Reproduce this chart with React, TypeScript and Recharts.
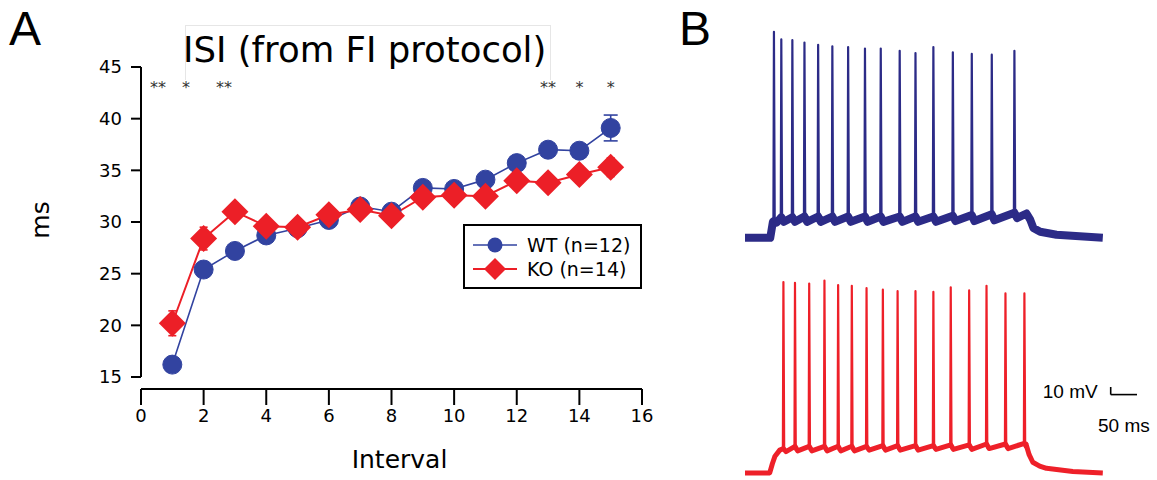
import React from "react";
import {
  ComposedChart,
  LineChart,
  Line,
  Scatter,
  ErrorBar,
  XAxis,
  YAxis,
  ReferenceLine
} from "recharts";

// panel A: ISI per interval
const intervals = [1, 2, 3, 4, 5, 6, 7, 8, 9, 10, 11, 12, 13, 14, 15];
const wtMean = [16.2, 25.4, 27.2, 28.7, 29.4, 30.2, 31.5, 31.0, 33.3, 33.2, 34.1, 35.7, 37.0, 36.9, 39.1];
const wtErr = [0.5, 0.5, 0.5, 0.5, 0.5, 0.5, 0.5, 0.5, 0.5, 0.5, 0.5, 0.6, 0.6, 0.6, 1.25];
const koMean = [20.2, 28.4, 31.0, 29.6, 29.5, 30.7, 31.2, 30.6, 32.4, 32.6, 32.5, 34.0, 33.8, 34.6, 35.3];
const koErr = [1.2, 1.1, 0.8, 0.7, 0.6, 0.6, 0.7, 0.7, 0.8, 0.8, 0.8, 0.8, 0.8, 0.8, 0.9];
const sigX = [0.54, 1.44, 2.65, 13, 14, 15];
const sigMark = ["**", "*", "**", "**", "*", "*"];
const sigLevel = 43.35;
const xTicks = [0, 2, 4, 6, 8, 10, 12, 14, 16];
const yTicks = [15, 20, 25, 30, 35, 40, 45];

// panel B: example traces (ms, mV)
const blueSpikeT = [55, 69, 90, 113, 139, 166, 196, 228, 258, 294, 324, 358, 395, 431, 469, 512];
const blueSpikePeak = [271, 261, 260, 257, 254, 252, 251, 249, 249, 246, 243, 251, 244, 242, 241, 246];
const bluePre = [22, 27, 27, 28, 28, 28, 28, 28, 28, 28, 28, 28, 29, 30, 31, 33];
const blueTrough = [20, 21, 21, 21, 21, 21, 21, 21, 21, 21, 21, 21, 22, 22, 23, 26];
const blueRiseT = [0, 48, 53];
const blueRiseV = [0, 0, 21];
const blueFallT = [535, 542, 548, 561, 592, 680];
const blueFallV = [32, 24, 13, 8, 4, 0];

const redSpikeT = [73, 95, 122, 151, 177, 203, 231, 262, 290, 324, 358, 391, 426, 459, 495, 531];
const redSpikePeak = [251, 250, 249, 253, 247, 246, 243, 241, 239, 239, 238, 244, 240, 246, 236, 236];
const redPre = [32, 35, 35, 35, 35, 35, 35, 36, 36, 36, 36, 37, 37, 38, 38, 39];
const redTrough = [28, 29, 29, 29, 29, 29, 30, 30, 30, 30, 31, 31, 31, 32, 32, 33];
const redRiseT = [0, 47, 52, 57, 66];
const redRiseV = [0, 0, 12, 22, 30];
const redFallT = [534, 540, 547, 560, 573, 623, 680];
const redFallV = [38, 24, 14, 9, 6, 2, 0];

const WT_COLOR = "#3243a0";
const KO_COLOR = "#ec1f27";
const TRACE_BLUE = "#2c2b87";
const TRACE_RED = "#ee2029";
const FONT = "'DejaVu Sans', sans-serif";
const ARIAL = "'Liberation Sans', Arial, sans-serif";

const isiData = intervals.map((x, i) => ({
  x,
  wt: wtMean[i],
  wtErr: wtErr[i],
  ko: koMean[i],
  koErr: koErr[i]
}));
const sigData = sigX.map((x, i) => ({ x, y: sigLevel, mark: sigMark[i] }));

type Pt = { t: number; v: number | null };

function buildBand(riseT: number[], riseV: number[], spikeT: number[], pre: number[], trough: number[], fallT: number[], fallV: number[]) {
  const pts: Pt[] = riseT.map((t, i) => ({ t, v: riseV[i] }));
  spikeT.forEach((t, i) => {
    pts.push({ t, v: pre[i] });
    pts.push({ t: t + 5, v: trough[i] });
  });
  fallT.forEach((t, i) => pts.push({ t, v: fallV[i] }));
  return pts;
}

function buildSpikes(spikeT: number[], peak: number[], pre: number[], trough: number[]) {
  const pts: Pt[] = [];
  spikeT.forEach((t, i) => {
    pts.push({ t: t - 1, v: pre[i] });
    pts.push({ t, v: peak[i] });
    pts.push({ t: t + 1.5, v: trough[i] });
    pts.push({ t: t + 2, v: null });
  });
  return pts;
}

const blueBand = buildBand(blueRiseT, blueRiseV, blueSpikeT, bluePre, blueTrough, blueFallT, blueFallV);
const blueSpikes = buildSpikes(blueSpikeT, blueSpikePeak, bluePre, blueTrough);
const redBand = buildBand(redRiseT, redRiseV, redSpikeT, redPre, redTrough, redFallT, redFallV);
const redSpikes = buildSpikes(redSpikeT, redSpikePeak, redPre, redTrough);

const Diamond = (props: any) => {
  const { cx, cy, index } = props;
  const h = 13.5;
  return (
    <path
      key={`ko-${index}`}
      d={`M${cx},${cy - h} L${cx + h},${cy} L${cx},${cy + h} L${cx - h},${cy} Z`}
      fill={KO_COLOR}
    />
  );
};

const Star = (props: any) => {
  const { cx, cy, payload } = props;
  return (
    <text x={cx} y={cy + 9} textAnchor="middle" fontSize={16} fill="#333" fontFamily={FONT}>
      {payload.mark}
    </text>
  );
};

// 1.9 ms per pixel on both traces
function Trace({ band, spikes, color, bandWidth, top, height, domain, children }: any) {
  return (
    <div style={{ position: "absolute", left: 745, top }}>
      <LineChart width={412} height={height} margin={{ top: 0, right: 0, bottom: 0, left: 0 }}>
        <XAxis dataKey="t" type="number" domain={[0, 783]} hide />
        <YAxis type="number" domain={domain} hide />
        <Line
          data={band}
          dataKey="v"
          stroke={color}
          strokeWidth={bandWidth}
          dot={false}
          activeDot={false}
          connectNulls
          strokeLinejoin="round"
          isAnimationActive={false}
        />
        <Line
          data={spikes}
          dataKey="v"
          stroke={color}
          strokeWidth={2.2}
          dot={false}
          activeDot={false}
          strokeLinejoin="round"
          isAnimationActive={false}
        />
        {children}
      </LineChart>
    </div>
  );
}

export default function App() {
  return (
    <div
      style={{
        position: "fixed",
        left: 0,
        top: 0,
        width: 1157,
        height: 480,
        overflow: "hidden",
        background: "#fff",
        fontFamily: FONT
      }}
    >
      <div style={{ position: "absolute", left: 9, top: 5, fontSize: 48, lineHeight: 1, fontFamily: ARIAL }}>A</div>
      <div style={{ position: "absolute", left: 679, top: 5, fontSize: 48, lineHeight: 1, fontFamily: ARIAL }}>B</div>

      <div
        style={{
          position: "absolute",
          left: 185,
          top: 25,
          width: 366,
          height: 55,
          border: "1px solid #e6e6e6",
          borderBottom: "none",
          boxSizing: "border-box"
        }}
      />
      <div style={{ position: "absolute", left: 183, top: 32, fontSize: 35.5, lineHeight: 1, whiteSpace: "nowrap" }}>
        ISI (from FI protocol)
      </div>

      <div style={{ position: "absolute", left: 0, top: 0 }}>
        <ComposedChart width={660} height={480} data={isiData} margin={{ top: 67, right: 18, bottom: 0, left: 0 }}>
          <XAxis
            dataKey="x"
            type="number"
            domain={[0, 16]}
            ticks={xTicks}
            axisLine={{ stroke: "#000", strokeWidth: 2 }}
            tickLine={{ stroke: "#000", strokeWidth: 2 }}
            tickSize={16}
            tickMargin={4}
            height={91}
            tick={{ fill: "#000", fontSize: 18, fontFamily: FONT }}
            label={{
              content: ({ viewBox }: any) => (
                <text
                  x={viewBox.x + viewBox.width / 2 + 8}
                  y={viewBox.y + 79}
                  textAnchor="middle"
                  fontSize={25}
                  fontFamily={FONT}
                  fill="#000"
                >
                  Interval
                </text>
              )
            }}
          />
          <YAxis
            type="number"
            domain={[13.84, 45]}
            ticks={yTicks}
            allowDataOverflow
            axisLine={false}
            tickLine={{ stroke: "#000", strokeWidth: 2 }}
            tickSize={10}
            tickMargin={9}
            width={141}
            tick={{ fill: "#000", fontSize: 18, fontFamily: FONT }}
            label={{
              content: () => (
                <text
                  x={40}
                  y={220}
                  transform="rotate(-90 40 220)"
                  textAnchor="middle"
                  dominantBaseline="central"
                  fontSize={25}
                  fontFamily={FONT}
                  fill="#000"
                >
                  ms
                </text>
              )
            }}
          />
          <ReferenceLine
            segment={[
              { x: 0, y: 15 },
              { x: 0, y: 45 }
            ]}
            stroke="#000"
            strokeWidth={2}
          />
          <Line
            dataKey="wt"
            stroke={WT_COLOR}
            strokeWidth={1.6}
            dot={{ r: 9.5, fill: WT_COLOR, stroke: WT_COLOR, strokeWidth: 1 }}
            activeDot={false}
            isAnimationActive={false}
          >
            <ErrorBar dataKey="wtErr" width={7} stroke={WT_COLOR} strokeWidth={1.6} direction="y" />
          </Line>
          <Line
            dataKey="ko"
            stroke={KO_COLOR}
            strokeWidth={2}
            dot={Diamond}
            activeDot={false}
            isAnimationActive={false}
          >
            <ErrorBar dataKey="koErr" width={4} stroke={KO_COLOR} strokeWidth={1.6} direction="y" />
          </Line>
          <Scatter data={sigData} dataKey="y" shape={Star} isAnimationActive={false} />
        </ComposedChart>
      </div>

      <div
        style={{
          position: "absolute",
          left: 463,
          top: 224,
          width: 179,
          height: 65,
          border: "2px solid #000",
          boxSizing: "border-box",
          background: "#fff"
        }}
      >
        <svg width={175} height={61} style={{ position: "absolute", left: 0, top: 0 }}>
          <line x1={8} x2={52} y1={19} y2={19} stroke={WT_COLOR} strokeWidth={1.6} />
          <circle cx={30} cy={19} r={7.5} fill={WT_COLOR} />
          <text x={62} y={19} dominantBaseline="central" fontSize={19} fontFamily={FONT} fill="#000">
            WT (n=12)
          </text>
          <line x1={8} x2={52} y1={43} y2={43} stroke={KO_COLOR} strokeWidth={2} />
          <path d="M30,32 L41,43 L30,54 L19,43 Z" fill={KO_COLOR} />
          <text x={62} y={43} dominantBaseline="central" fontSize={19} fontFamily={FONT} fill="#000">
            KO (n=14)
          </text>
        </svg>
      </div>

      <Trace band={blueBand} spikes={blueSpikes} color={TRACE_BLUE} bandWidth={8} top={25} height={228} domain={[-20, 280]} />
      <Trace band={redBand} spikes={redSpikes} color={TRACE_RED} bandWidth={5} top={260} height={219} domain={[-8, 280]}>
        <ReferenceLine
          segment={[
            { x: 695, y: 103 },
            { x: 695, y: 113 }
          ]}
          stroke="#000"
          strokeWidth={1.6}
          label={{ value: "10 mV", position: "left", offset: 13, fontSize: 19, fill: "#000", fontFamily: ARIAL }}
        />
        <ReferenceLine
          segment={[
            { x: 695, y: 103 },
            { x: 745, y: 103 }
          ]}
          stroke="#000"
          strokeWidth={1.6}
          label={{ value: "50 ms", position: "bottom", offset: 24, fontSize: 19, fill: "#000", fontFamily: ARIAL }}
        />
      </Trace>
    </div>
  );
}
